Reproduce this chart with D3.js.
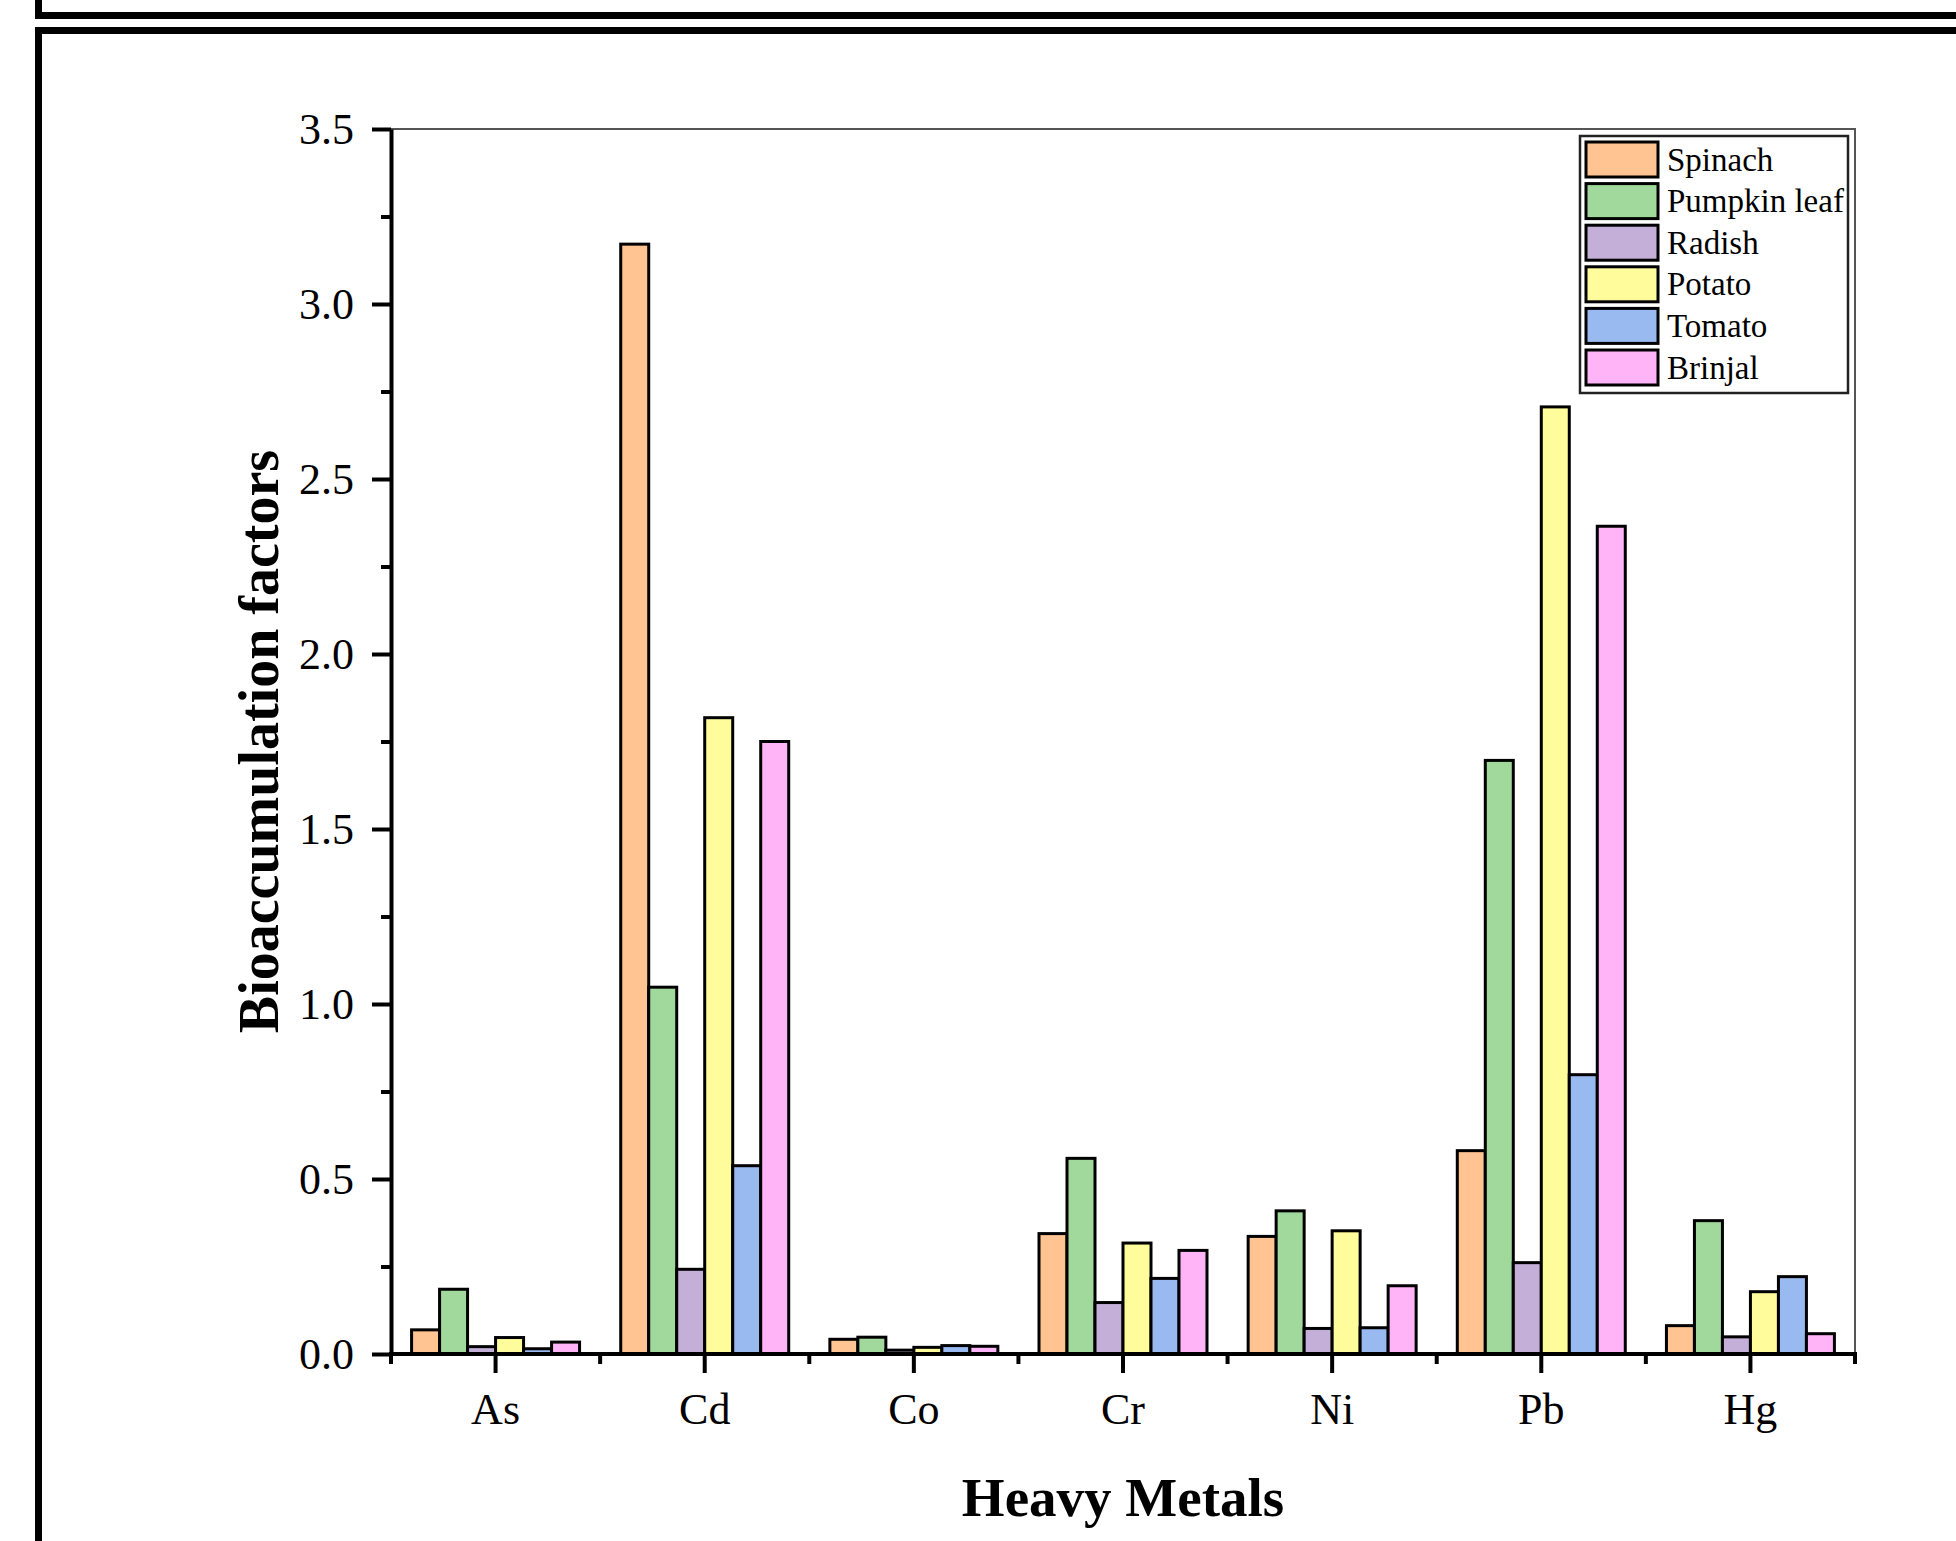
<!DOCTYPE html>
<html>
<head>
<meta charset="utf-8">
<script src="https://cdn.jsdelivr.net/npm/d3@7/dist/d3.min.js"></script>
<style>
    body { margin: 0; background: #fff; }
    svg { display: block; }
    text { font-family: "Liberation Serif", "Times New Roman", serif; fill: #000; }
</style>
</head>
<body>
<div id="chart"></div>
<script>
var metals = ['As', 'Cd', 'Co', 'Cr', 'Ni', 'Pb', 'Hg'];
var crops = ['Spinach', 'Pumpkin leaf', 'Radish', 'Potato', 'Tomato', 'Brinjal'];
var colors = ['#FFC491', '#A1D99D', '#C3AFD7', '#FFFD9B', '#99BAF1', '#FFB4F8'];

// one array per crop, in the order of metals
var spinach = [0.069, 3.171, 0.042, 0.344, 0.336, 0.581, 0.081];
var pumpkinLeaf = [0.185, 1.048, 0.048, 0.559, 0.409, 1.696, 0.381];
var radish = [0.021, 0.242, 0.011, 0.147, 0.073, 0.261, 0.049];
var potato = [0.047, 1.818, 0.019, 0.317, 0.352, 2.706, 0.178];
var tomato = [0.015, 0.538, 0.024, 0.216, 0.075, 0.798, 0.221];
var brinjal = [0.034, 1.750, 0.022, 0.296, 0.195, 2.365, 0.058];
var series = [spinach, pumpkinLeaf, radish, potato, tomato, brinjal];

var yTicks = [0, 0.5, 1.0, 1.5, 2.0, 2.5, 3.0, 3.5];

var W = 1956, H = 1541;
// plot box (window.top is taken, so p* names)
var pLeft = 391, pRight = 1855, pTop = 129, pBottom = 1354;

var svg = d3.select('#chart')
    .append('svg')
    .attr('width', W)
    .attr('height', H);

svg.append('rect')
    .attr('width', W)
    .attr('height', H)
    .attr('fill', '#fff');

// page frame (two boxes, the upper one cut off)
var defs = svg.append('defs');
defs.append('filter')
    .attr('id', 'blur')
    .append('feGaussianBlur')
    .attr('stdDeviation', 2);
svg.append('line')
    .attr('x1', 38).attr('x2', W)
    .attr('y1', 22).attr('y2', 22)
    .attr('stroke', '#999')
    .attr('stroke-width', 5)
    .attr('filter', 'url(#blur)');
svg.append('path')
    .attr('d', 'M38.5,0 V15.5 H' + W)
    .attr('fill', 'none')
    .attr('stroke', '#000')
    .attr('stroke-width', 7);
svg.append('path')
    .attr('d', 'M38.5,' + H + ' V30.5 H' + W)
    .attr('fill', 'none')
    .attr('stroke', '#000')
    .attr('stroke-width', 7);

var x0 = d3.scaleBand()
    .domain(metals)
    .range([pLeft, pRight])
    .padding(0);

var x1 = d3.scaleBand()
    .domain(crops)
    .range([0, x0.bandwidth()])
    .paddingInner(0)
    .paddingOuter(0.735);

var y = d3.scaleLinear()
    .domain([0, 3.5])
    .range([pBottom, pTop]);

// top and right frame
svg.append('path')
    .attr('d', 'M' + pLeft + ',' + pTop + ' H' + pRight + ' V' + pBottom)
    .attr('fill', 'none')
    .attr('stroke', '#555')
    .attr('stroke-width', 2);

// bars
var groups = svg.selectAll('.group')
    .data(metals)
    .enter()
    .append('g')
    .attr('class', 'group')
    .attr('transform', function(d) {
        return 'translate(' + x0(d) + ',0)'
    });

groups.selectAll('rect')
    .data(function(d, i) {
        return crops.map(function(c, j) {
            return { crop: c, value: series[j][i], color: colors[j] }
        })
    })
    .enter()
    .append('rect')
    .attr('x', function(d) { return x1(d.crop) })
    .attr('y', function(d) { return y(d.value) })
    .attr('width', x1.bandwidth())
    .attr('height', function(d) { return pBottom - y(d.value) })
    .attr('fill', function(d) { return d.color })
    .attr('stroke', '#000')
    .attr('stroke-width', 3);

// y axis
var yMinor = d3.range(0.25, 3.5, 0.5);
svg.append('g')
    .attr('transform', 'translate(' + pLeft + ',0)')
    .call(d3.axisLeft(y).tickValues(yMinor).tickSize(10).tickFormat(''))
    .call(function(g) {
        g.select('.domain').remove();
        g.selectAll('line').attr('stroke-width', 4)
    });
var yAxis = svg.append('g')
    .attr('transform', 'translate(' + pLeft + ',0)')
    .call(d3.axisLeft(y).tickValues(yTicks).tickSize(19).tickSizeOuter(0).tickPadding(18).tickFormat(d3.format('.1f')));
yAxis.select('.domain')
    .attr('stroke-width', 4);
yAxis.selectAll('line')
    .attr('stroke-width', 4);
yAxis.selectAll('text')
    .attr('font-size', 44)
    .attr('font-family', 'Liberation Serif')
    .attr('dy', '0.34em');

// x axis: long ticks at the centres, short ticks at the group edges
var bounds = metals.map(function(d) { return x0(d) }).concat([pRight]);
svg.append('g')
    .selectAll('line')
    .data(bounds)
    .enter()
    .append('line')
    .attr('x1', function(d) { return d })
    .attr('x2', function(d) { return d })
    .attr('y1', pBottom)
    .attr('y2', pBottom + 10)
    .attr('stroke', '#000')
    .attr('stroke-width', 4);

var xAxis = svg.append('g')
    .attr('transform', 'translate(0,' + pBottom + ')')
    .call(d3.axisBottom(x0).tickSize(19).tickSizeOuter(0).tickPadding(20));
xAxis.select('.domain')
    .attr('d', 'M' + (pLeft - 2) + ',0H' + (pRight + 2))
    .attr('stroke-width', 4);
xAxis.selectAll('line')
    .attr('stroke-width', 4);
xAxis.selectAll('text')
    .attr('font-size', 44)
    .attr('font-family', 'Liberation Serif');

// axis titles
svg.append('text')
    .attr('x', (pLeft + pRight) / 2)
    .attr('y', 1516)
    .attr('text-anchor', 'middle')
    .attr('font-size', 55)
    .attr('font-weight', 'bold')
    .text('Heavy Metals');

svg.append('text')
    .attr('transform', 'translate(278,' + (pTop + pBottom) / 2 + ') rotate(-90)')
    .attr('text-anchor', 'middle')
    .attr('font-size', 56)
    .attr('font-weight', 'bold')
    .text('Bioaccumulation factors');

// legend
var legend = svg.append('g');
legend.append('rect')
    .attr('x', 1580)
    .attr('y', 136)
    .attr('width', 268)
    .attr('height', 257)
    .attr('fill', '#fff')
    .attr('stroke', '#222')
    .attr('stroke-width', 2.5);

var rows = legend.selectAll('.row')
    .data(crops)
    .enter()
    .append('g')
    .attr('class', 'row')
    .attr('transform', function(d, i) {
        return 'translate(0,' + (142 + i * 41.6) + ')'
    });
rows.append('rect')
    .attr('x', 1586)
    .attr('y', 0)
    .attr('width', 72)
    .attr('height', 35)
    .attr('fill', function(d, i) { return colors[i] })
    .attr('stroke', '#000')
    .attr('stroke-width', 3);
rows.append('text')
    .attr('x', 1667)
    .attr('y', 28.5)
    .attr('font-size', 33)
    .text(function(d) { return d });
</script>
</body>
</html>
